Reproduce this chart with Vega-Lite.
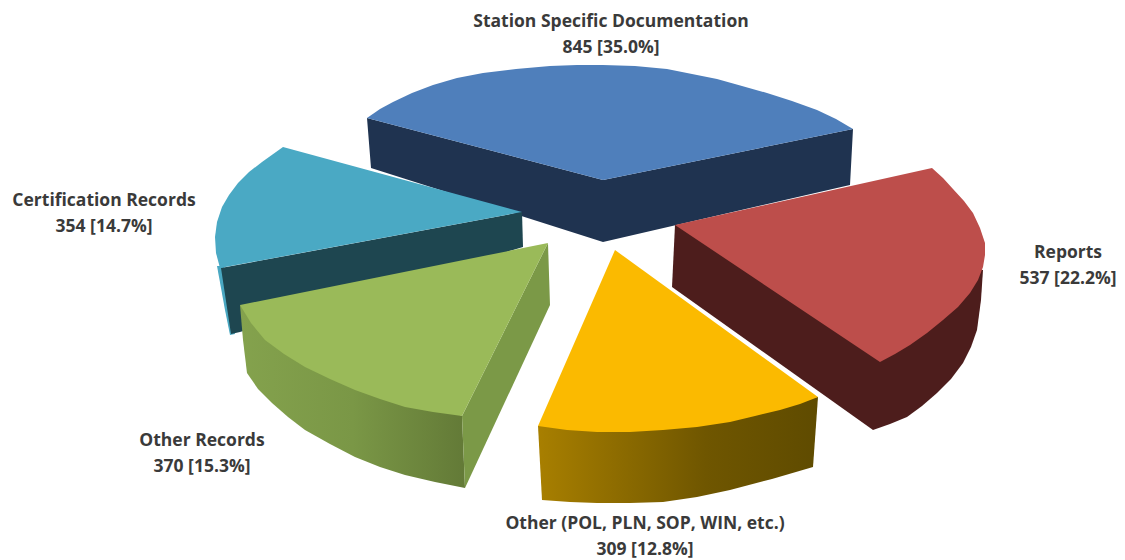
{"$schema":"https://vega.github.io/schema/vega-lite/v6.json","description":"Exploded 3-D pie redrawn from its picture. The elliptical faces cannot be made with arc marks, so each face is an outline of points read off the picture; the outlines are not computed from the counts in the labels.","width":1125,"height":560,"padding":0,"autosize":"none","background":"white","config":{"view":{"stroke":null}},
"datasets":{"faces":[
{"part":"blueSide","i":1,"x":367,"y":118},{"part":"blueSide","i":2,"x":371,"y":168},{"part":"blueSide","i":3,"x":603,"y":242},{"part":"blueSide","i":4,"x":850,"y":185},{"part":"blueSide","i":5,"x":853,"y":129},{"part":"blueSide","i":6,"x":603,"y":180},
{"part":"blueTop","i":1,"x":367,"y":118},{"part":"blueTop","i":2,"x":380,"y":109},{"part":"blueTop","i":3,"x":393,"y":102},{"part":"blueTop","i":4,"x":412,"y":93},{"part":"blueTop","i":5,"x":433,"y":85},{"part":"blueTop","i":6,"x":457,"y":78},{"part":"blueTop","i":7,"x":483,"y":73},{"part":"blueTop","i":8,"x":516,"y":69},{"part":"blueTop","i":9,"x":550,"y":66},{"part":"blueTop","i":10,"x":577,"y":65},{"part":"blueTop","i":11,"x":603,"y":65},{"part":"blueTop","i":12,"x":635,"y":66},{"part":"blueTop","i":13,"x":667,"y":69},{"part":"blueTop","i":14,"x":692,"y":74},{"part":"blueTop","i":15,"x":717,"y":79},{"part":"blueTop","i":16,"x":742,"y":86},{"part":"blueTop","i":17,"x":767,"y":93},{"part":"blueTop","i":18,"x":792,"y":101},{"part":"blueTop","i":19,"x":817,"y":110},{"part":"blueTop","i":20,"x":836,"y":119},{"part":"blueTop","i":21,"x":853,"y":129},{"part":"blueTop","i":22,"x":603,"y":180},
{"part":"tealSliver","i":1,"x":217,"y":266},{"part":"tealSliver","i":2,"x":225,"y":310},{"part":"tealSliver","i":3,"x":230,"y":335},{"part":"tealSliver","i":4,"x":235,"y":334},{"part":"tealSliver","i":5,"x":224,"y":266},
{"part":"tealSide","i":1,"x":522,"y":212},{"part":"tealSide","i":2,"x":523,"y":247},{"part":"tealSide","i":3,"x":240,"y":332},{"part":"tealSide","i":4,"x":231,"y":334},{"part":"tealSide","i":5,"x":221,"y":268},
{"part":"tealTop","i":1,"x":283,"y":147},{"part":"tealTop","i":2,"x":522,"y":212},{"part":"tealTop","i":3,"x":220,"y":268},{"part":"tealTop","i":4,"x":216,"y":253},{"part":"tealTop","i":5,"x":215,"y":237},{"part":"tealTop","i":6,"x":217,"y":222},{"part":"tealTop","i":7,"x":222,"y":207},{"part":"tealTop","i":8,"x":229,"y":195},{"part":"tealTop","i":9,"x":238,"y":183},{"part":"tealTop","i":10,"x":249,"y":172},{"part":"tealTop","i":11,"x":262,"y":162},
{"part":"redSide","i":1,"x":675,"y":225},{"part":"redSide","i":2,"x":672,"y":287},{"part":"redSide","i":3,"x":873,"y":430},{"part":"redSide","i":4,"x":890,"y":424},{"part":"redSide","i":5,"x":907,"y":417},{"part":"redSide","i":6,"x":922,"y":406},{"part":"redSide","i":7,"x":937,"y":393},{"part":"redSide","i":8,"x":951,"y":379},{"part":"redSide","i":9,"x":963,"y":363},{"part":"redSide","i":10,"x":971,"y":347},{"part":"redSide","i":11,"x":977,"y":330},{"part":"redSide","i":12,"x":981,"y":300},{"part":"redSide","i":13,"x":983,"y":270},
{"part":"redTop","i":1,"x":675,"y":225},{"part":"redTop","i":2,"x":932,"y":168},{"part":"redTop","i":3,"x":943,"y":178},{"part":"redTop","i":4,"x":953,"y":189},{"part":"redTop","i":5,"x":964,"y":201},{"part":"redTop","i":6,"x":973,"y":213},{"part":"redTop","i":7,"x":980,"y":228},{"part":"redTop","i":8,"x":985,"y":243},{"part":"redTop","i":9,"x":985,"y":255},{"part":"redTop","i":10,"x":983,"y":267},{"part":"redTop","i":11,"x":978,"y":280},{"part":"redTop","i":12,"x":970,"y":293},{"part":"redTop","i":13,"x":958,"y":307},{"part":"redTop","i":14,"x":943,"y":320},{"part":"redTop","i":15,"x":927,"y":333},{"part":"redTop","i":16,"x":910,"y":345},{"part":"redTop","i":17,"x":895,"y":354},{"part":"redTop","i":18,"x":880,"y":362},
{"part":"yellowSide","i":1,"x":538,"y":426},{"part":"yellowSide","i":2,"x":542,"y":500},{"part":"yellowSide","i":3,"x":570,"y":502},{"part":"yellowSide","i":4,"x":597,"y":503},{"part":"yellowSide","i":5,"x":630,"y":503},{"part":"yellowSide","i":6,"x":663,"y":502},{"part":"yellowSide","i":7,"x":697,"y":497},{"part":"yellowSide","i":8,"x":730,"y":490},{"part":"yellowSide","i":9,"x":772,"y":479},{"part":"yellowSide","i":10,"x":813,"y":467},{"part":"yellowSide","i":11,"x":818,"y":397},
{"part":"greenSide","i":1,"x":240,"y":305},{"part":"greenSide","i":2,"x":243,"y":340},{"part":"greenSide","i":3,"x":247,"y":373},{"part":"greenSide","i":4,"x":258,"y":389},{"part":"greenSide","i":5,"x":272,"y":403},{"part":"greenSide","i":6,"x":288,"y":417},{"part":"greenSide","i":7,"x":305,"y":430},{"part":"greenSide","i":8,"x":330,"y":444},{"part":"greenSide","i":9,"x":355,"y":457},{"part":"greenSide","i":10,"x":380,"y":467},{"part":"greenSide","i":11,"x":405,"y":475},{"part":"greenSide","i":12,"x":435,"y":482},{"part":"greenSide","i":13,"x":465,"y":488},{"part":"greenSide","i":14,"x":462,"y":416},
{"part":"yellowTop","i":1,"x":615,"y":250},{"part":"yellowTop","i":2,"x":818,"y":397},{"part":"yellowTop","i":3,"x":800,"y":404},{"part":"yellowTop","i":4,"x":780,"y":410},{"part":"yellowTop","i":5,"x":755,"y":416},{"part":"yellowTop","i":6,"x":730,"y":422},{"part":"yellowTop","i":7,"x":697,"y":427},{"part":"yellowTop","i":8,"x":663,"y":430},{"part":"yellowTop","i":9,"x":630,"y":432},{"part":"yellowTop","i":10,"x":597,"y":432},{"part":"yellowTop","i":11,"x":567,"y":430},{"part":"yellowTop","i":12,"x":538,"y":426},
{"part":"greenEdge","i":1,"x":548,"y":243},{"part":"greenEdge","i":2,"x":550,"y":305},{"part":"greenEdge","i":3,"x":465,"y":488},{"part":"greenEdge","i":4,"x":462,"y":416},
{"part":"greenTop","i":1,"x":548,"y":243},{"part":"greenTop","i":2,"x":462,"y":416},{"part":"greenTop","i":3,"x":433,"y":412},{"part":"greenTop","i":4,"x":405,"y":407},{"part":"greenTop","i":5,"x":380,"y":399},{"part":"greenTop","i":6,"x":355,"y":390},{"part":"greenTop","i":7,"x":330,"y":379},{"part":"greenTop","i":8,"x":305,"y":367},{"part":"greenTop","i":9,"x":284,"y":354},{"part":"greenTop","i":10,"x":265,"y":340},{"part":"greenTop","i":11,"x":251,"y":323},{"part":"greenTop","i":12,"x":240,"y":305}
],
"labels":[
{"name":"Station Specific Documentation","count":845,"share":35.0,"x":611,"y":22},
{"name":"Reports","count":537,"share":22.2,"x":1068,"y":253},
{"name":"Other (POL, PLN, SOP, WIN, etc.)","count":309,"share":12.8,"x":645,"y":524},
{"name":"Other Records","count":370,"share":15.3,"x":202,"y":441},
{"name":"Certification Records","count":354,"share":14.7,"x":104,"y":201}
]},
"encoding":{"x":{"field":"x","type":"quantitative","scale":{"domain":[0,1125]},"axis":null},"y":{"field":"y","type":"quantitative","scale":{"domain":[560,0]},"axis":null}},
"resolve":{"scale":{"color":"independent"}},
"layer":[
{"data":{"name":"faces"},"transform":[{"filter":"indexof(['blueSide','blueTop','tealSliver','tealSide','tealTop','redSide','redTop'],datum.part)>=0"}],"mark":{"type":"line","filled":true,"strokeWidth":0},"encoding":{"order":{"field":"i","type":"quantitative"},"color":{"field":"part","type":"nominal","legend":null,"sort":null,"scale":{"domain":["blueSide","blueTop","tealSliver","tealSide","tealTop","redSide","redTop"],"range":["#1f3350","#4f7fbb","#4aa8c2","#1e4650","#4aa9c4","#4d1d1c","#bd4e4b"]}}}},
{"data":{"name":"faces"},"transform":[{"filter":"datum.part=='yellowSide'"}],"mark":{"type":"line","filled":true,"strokeWidth":0,"fill":{"gradient":"linear","x1":0,"x2":1,"y1":0,"y2":0,"stops":[{"offset":0,"color":"#a87f00"},{"offset":0.6,"color":"#6f5600"},{"offset":1,"color":"#5f4b00"}]}},"encoding":{"order":{"field":"i","type":"quantitative"}}},
{"data":{"name":"faces"},"transform":[{"filter":"datum.part=='greenSide'"}],"mark":{"type":"line","filled":true,"strokeWidth":0,"fill":{"gradient":"linear","x1":0,"x2":1,"y1":0,"y2":0,"stops":[{"offset":0,"color":"#84a24d"},{"offset":0.5,"color":"#7a9746"},{"offset":1,"color":"#637a37"}]}},"encoding":{"order":{"field":"i","type":"quantitative"}}},
{"data":{"name":"faces"},"transform":[{"filter":"indexof(['yellowTop','greenEdge','greenTop'],datum.part)>=0"}],"mark":{"type":"line","filled":true,"strokeWidth":0},"encoding":{"order":{"field":"i","type":"quantitative"},"color":{"field":"part","type":"nominal","legend":null,"sort":null,"scale":{"domain":["yellowTop","greenEdge","greenTop"],"range":["#fbba00","#7b9947","#9aba59"]}}}},
{"data":{"name":"labels"},"transform":[{"calculate":"datum.name+'\\n'+datum.count+' ['+format(datum.share,'.1f')+'%]'","as":"label"}],"mark":{"type":"text","font":"Open Sans","fontSize":17.5,"fontWeight":"bold","color":"#3a3a3a","align":"center","baseline":"middle","lineBreak":"\n","lineHeight":26},"encoding":{"text":{"field":"label","type":"nominal"}}}
]}
